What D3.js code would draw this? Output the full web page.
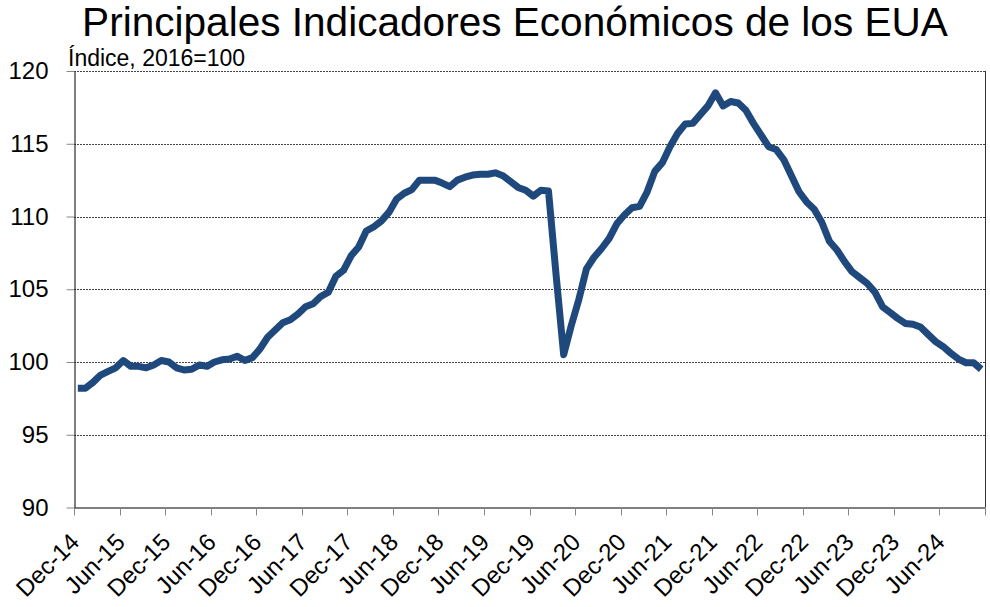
<!DOCTYPE html>
<html>
<head>
<meta charset="utf-8">
<script src="https://cdn.jsdelivr.net/npm/d3@7"></script>
<style>
  body { margin: 0; background: #fff; }
  svg { display: block; font-family: 'Liberation Sans', Arial, sans-serif; }
</style>
</head>
<body>
<div id="chart"></div>
<script>
const title = 'Principales Indicadores Económicos de los EUA'
const subtitle = 'Índice, 2016=100'

const monthNames = ['Jan', 'Feb', 'Mar', 'Apr', 'May', 'Jun', 'Jul', 'Aug', 'Sep', 'Oct', 'Nov', 'Dec']

// Dec-14 .. Nov-24
const months = d3.range(120).map(i => {
  const m = (11 + i) % 12
  const y = 14 + Math.floor((11 + i) / 12)
  return `${monthNames[m]}-${y}`
})

const values = [
  98.2, 98.2, 98.6, 99.1, 99.35, 99.6, 100.1, 99.7, 99.7, 99.6, 99.8, 100.1,
  100.0, 99.6, 99.45, 99.5, 99.8, 99.7, 100.0, 100.15, 100.2, 100.4, 100.1, 100.3,
  100.9, 101.7, 102.2, 102.7, 102.9, 103.3, 103.8, 104.0, 104.5, 104.8, 105.9, 106.3,
  107.3, 107.9, 109.0, 109.3, 109.7, 110.3, 111.2, 111.6, 111.85, 112.5, 112.5, 112.5,
  112.3, 112.05, 112.5, 112.7, 112.85, 112.9, 112.9, 113.0, 112.8, 112.4, 112.0, 111.8,
  111.4, 111.8, 111.75, 106.0, 100.5, 102.5, 104.3, 106.4, 107.2, 107.8, 108.5, 109.5,
  110.1, 110.6, 110.7, 111.7, 113.1, 113.7, 114.8, 115.7, 116.35, 116.4, 117.0, 117.6,
  118.5, 117.6, 117.9, 117.8, 117.3, 116.4, 115.6, 114.8, 114.6, 113.9, 112.8, 111.7,
  111.0, 110.5, 109.6, 108.3, 107.7, 106.9, 106.2, 105.8, 105.4, 104.8, 103.8, 103.4,
  103.0, 102.65, 102.6, 102.4, 101.9, 101.4, 101.05, 100.6, 100.2, 99.95, 99.95, 99.5
]

const yTicks = [90, 95, 100, 105, 110, 115, 120]
const xLabels = ['Dec-14', 'Jun-15', 'Dec-15', 'Jun-16', 'Dec-16', 'Jun-17', 'Dec-17', 'Jun-18',
  'Dec-18', 'Jun-19', 'Dec-19', 'Jun-20', 'Dec-20', 'Jun-21', 'Dec-21', 'Jun-22', 'Dec-22',
  'Jun-23', 'Dec-23', 'Jun-24']

const width = 990
const height = 607
const margin = { top: 71, right: 5, bottom: 100, left: 74 }
const plotW = width - margin.left - margin.right
const plotH = 507.5 - margin.top

const x = d3.scaleBand().domain(months).range([0, plotW]).paddingInner(0).paddingOuter(0)
const y = d3.scaleLinear().domain([90, 120]).range([plotH, 0])

const svg = d3
  .select('#chart')
  .append('svg')
  .attr('width', width)
  .attr('height', height)

const t = svg
  .append('text')
  .attr('x', width / 2 + 20)
  .attr('y', 36)
  .attr('text-anchor', 'middle')
  .attr('font-size', 36)
  .attr('fill', '#000')
  .text(title)
// fit the title to the width it has in the picture
const tw = t.node().getComputedTextLength()
t.attr('font-size', 36 * 866 / tw)

svg
  .append('text')
  .attr('x', 68)
  .attr('y', 66)
  .attr('font-size', 23)
  .attr('fill', '#000')
  .text(subtitle)

const g = svg.append('g').attr('transform', `translate(${margin.left},${margin.top})`)

// gridlines
g.append('g')
  .selectAll('line')
  .data(yTicks.filter(d => d !== 90))
  .join('line')
  .attr('x1', 0)
  .attr('x2', plotW)
  .attr('y1', d => Math.round(y(d)) + 0.5)
  .attr('y2', d => Math.round(y(d)) + 0.5)
  .attr('stroke', '#444')
  .attr('stroke-width', 1)
  .attr('stroke-dasharray', '2 1')

// right border of plot area
g.append('line')
  .attr('x1', plotW + 0.5)
  .attr('x2', plotW + 0.5)
  .attr('y1', 0)
  .attr('y2', plotH)
  .attr('stroke', '#333')

const yAxis = d3.axisLeft(y).tickValues(yTicks).tickSizeInner(8).tickSizeOuter(0).tickPadding(18)
g.append('g')
  .attr('transform', 'translate(0.5,0)')
  .call(yAxis)
  .call(s => s.select('.domain').attr('stroke', '#000'))
  .call(s => s.selectAll('.tick line').attr('stroke', '#888'))
  .call(s => s.selectAll('.tick text').attr('font-size', 24).attr('fill', '#000').attr('font-family', 'Liberation Sans, Arial, sans-serif'))

// x axis: tick marks at category boundaries every 6 months
const tickIdx = d3.range(0, 121, 6)
const xa = g.append('g').attr('transform', `translate(0,${plotH})`)
xa.append('line')
  .attr('x1', 0)
  .attr('x2', plotW)
  .attr('y1', 0.5)
  .attr('y2', 0.5)
  .attr('stroke', '#000')
xa.selectAll('.tk')
  .data(tickIdx)
  .join('line')
  .attr('class', 'tk')
  .attr('x1', d => Math.round(d < 120 ? x(months[d]) : plotW) + 0.5)
  .attr('x2', d => Math.round(d < 120 ? x(months[d]) : plotW) + 0.5)
  .attr('y1', 0)
  .attr('y2', 8)
  .attr('stroke', '#888')

xa.selectAll('.lbl')
  .data(xLabels)
  .join('text')
  .attr('class', 'lbl')
  .attr('text-anchor', 'end')
  .attr('font-size', 24)
  .attr('fill', '#000')
  .attr('transform', d => `translate(${x(d) + x.bandwidth() / 2 + 3},${36}) rotate(-45)`)
  .text(d => d)

const line = d3
  .line()
  .x((d, i) => x(months[i]) + x.bandwidth() / 2)
  .y(d => y(d))

g.append('path')
  .datum(values)
  .attr('fill', 'none')
  .attr('stroke', '#1F497D')
  .attr('stroke-width', 7)
  .attr('stroke-linejoin', 'round')
  .attr('d', line)
</script>
</body>
</html>
